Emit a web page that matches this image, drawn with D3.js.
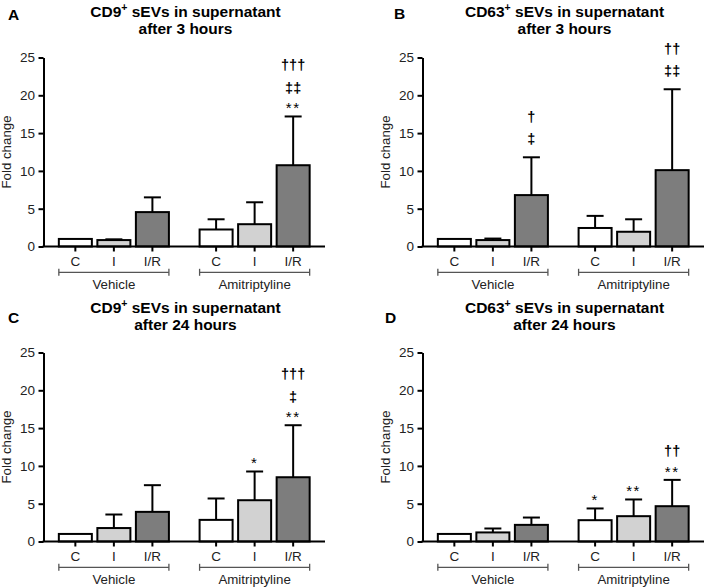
<!DOCTYPE html>
<html>
<head>
<meta charset="utf-8">
<script src="https://cdn.jsdelivr.net/npm/d3@7/dist/d3.min.js"></script>
<style>
  html, body { margin: 0; padding: 0; background: #fff; }
  svg { display: block; }
  text { font-family: "Liberation Sans", Arial, Helvetica, sans-serif; }
</style>
</head>
<body>
<svg id="chart" width="708" height="588"></svg>
<script>
// ---------------- DATA ----------------
const panelLetters = ["A", "B", "C", "D"];
const titleMarkers = ["CD9", "CD63", "CD9", "CD63"];
const titleTimes = ["after 3 hours", "after 3 hours", "after 24 hours", "after 24 hours"];
const groups = ["Vehicle", "Amitriptyline"];
const categories = ["C", "I", "I/R"];
const yTicks = [0, 5, 10, 15, 20, 25];

// means, order: Vehicle C, I, I/R, Amitriptyline C, I, I/R
const meanA = [1.0, 0.85, 4.55, 2.25, 2.95, 10.75];
const upperA = [1.0, 0.95, 6.5, 3.6, 5.85, 17.2];
const meanB = [1.0, 0.85, 6.8, 2.45, 1.95, 10.1];
const upperB = [1.0, 1.05, 11.8, 4.05, 3.6, 20.8];
const meanC = [1.0, 1.78, 3.92, 2.86, 5.46, 8.5];
const upperC = [1.0, 3.57, 7.45, 5.69, 9.26, 15.38];
const meanD = [1.0, 1.2, 2.2, 2.82, 3.35, 4.67];
const upperD = [1.0, 1.72, 3.17, 4.37, 5.56, 8.15];

// significance symbols stacked above each bar (bottom to top)
const annA = [[], [], [], [], [], ["**", "‡‡", "†††"]];
const annB = [[], [], ["‡", "†"], [], [], ["‡‡", "††"]];
const annC = [[], [], [], [], ["*"], ["**", "‡", "†††"]];
const annD = [[], [], [], ["*"], ["**"], ["**", "††"]];

const means = [meanA, meanB, meanC, meanD];
const uppers = [upperA, upperB, upperC, upperD];
const anns = [annA, annB, annC, annD];

// ---------------- LAYOUT ----------------
const fills = {"C": "#ffffff", "I": "#d2d2d2", "I/R": "#7d7d7d"};
const origins = [[0, 0], [379, 0], [0, 295], [379, 295]];
const letterPos = [[8, 20], [15, 19], [8, 27.5], [6, 27.5]];
const titleY = [[17, 34], [17, 34], [17.5, 34.5], [17.5, 34.5]];
const axisX = 43.5, axisEnd = 325, yBottom = 246.5, yTop = 57.5;

const svg = d3.select("#chart");

const x0 = d3.scaleBand().domain(groups).range([axisX, axisEnd])
  .paddingInner(0.218).paddingOuter(0.109);
const x1 = d3.scaleBand().domain(categories).range([0, x0.bandwidth()])
  .paddingInner(0.143);
const y = d3.scaleLinear().domain([0, 25]).range([yBottom, yTop]);

// symbol metrics for stacking (half visual height, baseline offset from centre)
const symHalf = {"*": 4, "‡": 10, "†": 10};
const symBase = {"*": 8.3, "‡": 4.5, "†": 4.5};

panelLetters.forEach((letter, p) => {
  const g = svg.append("g").attr("transform", `translate(${origins[p][0]},${origins[p][1]})`);

  // letter
  g.append("text").attr("x", letterPos[p][0]).attr("y", letterPos[p][1])
    .attr("font-size", 15.5).attr("font-weight", "bold").attr("fill", "#000").text(letter);

  // title
  const t1 = g.append("text").attr("x", 185.5).attr("y", titleY[p][0])
    .attr("text-anchor", "middle").attr("font-size", 15.5).attr("font-weight", "bold");
  t1.append("tspan").text(titleMarkers[p]);
  t1.append("tspan").attr("font-size", 10.5).attr("dy", -6).text("+");
  t1.append("tspan").attr("dy", 6).text(" sEVs in supernatant");
  g.append("text").attr("x", 185.5).attr("y", titleY[p][1])
    .attr("text-anchor", "middle").attr("font-size", 15.5).attr("font-weight", "bold")
    .text(titleTimes[p]);

  // y label
  g.append("text").attr("transform", `translate(11.2,${(yTop + yBottom) / 2}) rotate(-90)`)
    .attr("text-anchor", "middle").attr("font-size", 13.3).attr("fill", "#222").text("Fold change");

  // y axis
  const ya = g.append("g").attr("transform", `translate(${axisX},0)`)
    .call(d3.axisLeft(y).tickValues(yTicks).tickSize(5).tickSizeOuter(0).tickPadding(3.5));
  ya.select(".domain").attr("stroke", "#000").attr("stroke-width", 2);
  ya.selectAll(".tick line").attr("stroke", "#000").attr("stroke-width", 2);
  ya.selectAll(".tick text").attr("font-size", 13.5).attr("fill", "#222")
    .style("font-family", '"Liberation Sans", Arial, sans-serif');

  // bars
  const rows = [];
  groups.forEach((gr, gi) => categories.forEach((c, ci) => {
    const i = gi * 3 + ci;
    rows.push({group: gr, cat: c, mean: means[p][i], upper: uppers[p][i], ann: anns[p][i]});
  }));

  const bx = d => x0(d.group) + x1(d.cat);
  const bc = d => bx(d) + x1.bandwidth() / 2;

  const eb = g.append("g").selectAll("g").data(rows.filter(d => d.upper > d.mean)).join("g");
  eb.append("line").attr("x1", bc).attr("x2", bc)
    .attr("y1", d => y(d.mean)).attr("y2", d => y(d.upper))
    .attr("stroke", "#000").attr("stroke-width", 2);
  eb.append("line").attr("x1", d => bc(d) - 8.5).attr("x2", d => bc(d) + 8.5)
    .attr("y1", d => y(d.upper)).attr("y2", d => y(d.upper))
    .attr("stroke", "#000").attr("stroke-width", 2);

  g.append("g").selectAll("rect").data(rows).join("rect")
    .attr("x", bx).attr("width", x1.bandwidth())
    .attr("y", d => y(d.mean)).attr("height", d => y(0) - y(d.mean))
    .attr("fill", d => fills[d.cat]).attr("stroke", "#000").attr("stroke-width", 2);

  // x axis baseline
  g.append("line").attr("x1", axisX - 1).attr("x2", axisEnd)
    .attr("y1", y(0)).attr("y2", y(0)).attr("stroke", "#000").attr("stroke-width", 2);

  groups.forEach(gr => {
    const xa = g.append("g").attr("transform", `translate(${x0(gr)},${y(0)})`)
      .call(d3.axisBottom(x1).tickSize(5).tickSizeOuter(0).tickPadding(4.5));
    xa.select(".domain").remove();
    xa.selectAll(".tick line").attr("stroke", "#000").attr("stroke-width", 2);
    xa.selectAll(".tick text").attr("font-size", 13.5).attr("fill", "#222")
      .style("font-family", '"Liberation Sans", Arial, sans-serif');

    const by = y(0) + 25.8;
    const bs = g.append("g").attr("stroke", "#555").attr("stroke-width", 1.3);
    bs.append("line").attr("x1", x0(gr)).attr("x2", x0(gr) + x0.bandwidth()).attr("y1", by).attr("y2", by);
    bs.append("line").attr("x1", x0(gr)).attr("x2", x0(gr)).attr("y1", by - 3.5).attr("y2", by + 3.5);
    bs.append("line").attr("x1", x0(gr) + x0.bandwidth()).attr("x2", x0(gr) + x0.bandwidth()).attr("y1", by - 3.5).attr("y2", by + 3.5);
    g.append("text").attr("x", x0(gr) + x0.bandwidth() / 2).attr("y", y(0) + 42)
      .attr("text-anchor", "middle").attr("font-size", 13.3).attr("fill", "#222").text(gr);
  });

  // annotations
  rows.forEach(d => {
    let cursor = y(d.upper) - 7.5;
    d.ann.forEach((s, k) => {
      const ch = s[0];
      if (k > 0) cursor -= 2.5;
      const centre = cursor - symHalf[ch];
      cursor -= 2 * symHalf[ch];
      g.append("text").attr("x", bc(d)).attr("y", centre + symBase[ch])
        .attr("text-anchor", "middle")
        .attr("font-size", ch === "*" ? 15 : 14.5)
        .attr("font-weight", ch === "*" ? "normal" : "bold")
        .attr("letter-spacing", ch === "*" ? 1.5 : 0)
        .attr("fill", "#000").text(s);
    });
  });
});
</script>
</body>
</html>
